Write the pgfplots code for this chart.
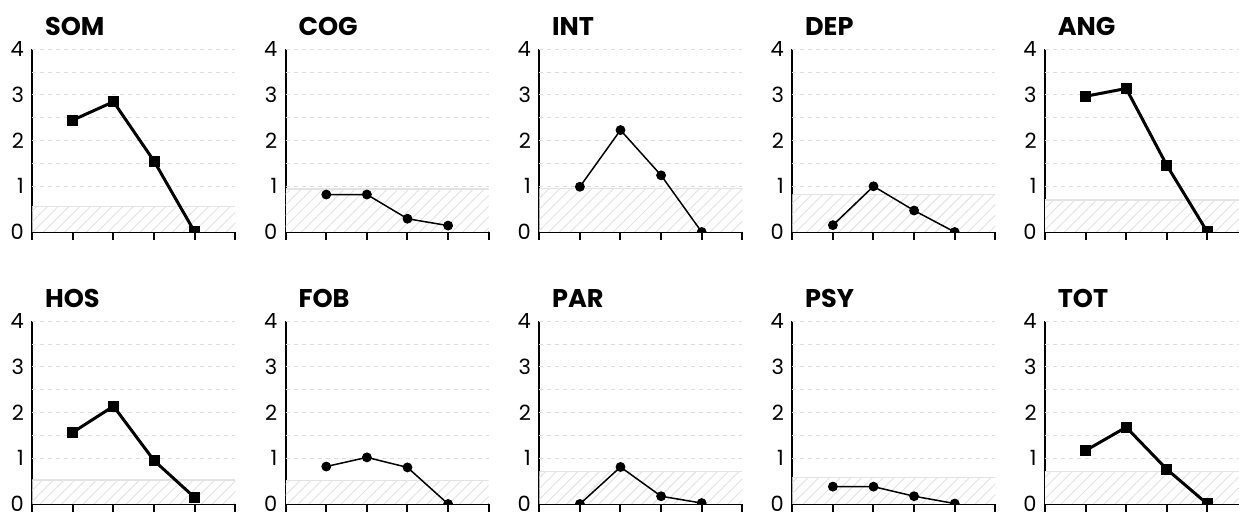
\documentclass[border=0pt]{standalone}
\usepackage{pgfplots}
\pgfplotsset{compat=1.18}
\usetikzlibrary{patterns.meta}
\usepackage{fontspec}
\setmainfont{Poppins}

\definecolor{gridc}{HTML}{DDDDDD}
\definecolor{bandc}{HTML}{E3E3E3}

\pgfplotsset{
 panel/.style={
  width=101.5pt, height=91.4pt, scale only axis,
  xmin=0,xmax=5,ymin=0,ymax=4,
  axis x line=bottom, axis y line=left,
  axis line style={-, line width=1pt, black},
  xtick={0,1,2,3,4,5}, xticklabels={},
  ytick={0,1,2,3,4},
  tick align=outside,
  major tick length=4pt,
  x tick style={line width=1pt, black},
  y tick style={draw=none},
  yticklabel style={font=\fontsize{10.5}{11}\selectfont, inner sep=0pt},
  /pgf/number format/assume math mode=true,
  extra y ticks={1,1.5,2,2.5,3,3.5,4},
  extra y tick labels={},
  extra y tick style={grid=major, major grid style={gridc, dash pattern=on 2pt off 2pt, line width=0.5pt}, y tick style={draw=none}},
  clip marker paths=true,
  title style={at={(0,1)}, anchor=base west, xshift=6.2pt, yshift=0.75pt, font=\fontsize{12.8}{13}\selectfont\bfseries, inner sep=0pt},
 },
 sq/.style={black, line width=1.5pt, mark=square*, mark size=2.5pt, mark options={line width=0.5pt}},
 ci/.style={black, line width=0.75pt, mark=*, mark size=2.2pt, mark options={line width=0.5pt}},
}

\newcommand{\band}[1]{%
 \addplot[draw=none, fill=white, postaction={pattern={Lines[angle=45,distance=3.8pt,line width=0.45pt]}, pattern color=bandc}] coordinates {(0,#1) (5,#1)} \closedcycle;
 \addplot[draw=bandc, line width=0.8pt] coordinates {(0,#1) (5,#1)};
}

\begin{document}
\begin{tikzpicture}
\fill[white] (0,0) rectangle (619.5pt,-256pt);

% ---- top row
\begin{axis}[panel, at={(16.15pt,-116pt)}, anchor=south west, title={SOM}]
\band{0.56}
\addplot[sq] coordinates {(1,2.45)(2,2.85)(3,1.55)(4,0)};
\end{axis}
\begin{axis}[panel, at={(142.85pt,-116pt)}, anchor=south west, title={COG}]
\band{0.94}
\addplot[ci] coordinates {(1,0.82)(2,0.82)(3,0.29)(4,0.14)};
\end{axis}
\begin{axis}[panel, at={(269.65pt,-116pt)}, anchor=south west, title={INT}]
\band{0.95}
\addplot[ci] coordinates {(1,0.99)(2,2.23)(3,1.24)(4,0)};
\end{axis}
\begin{axis}[panel, at={(396.15pt,-116pt)}, anchor=south west, title={DEP}]
\band{0.82}
\addplot[ci] coordinates {(1,0.15)(2,1.0)(3,0.47)(4,0)};
\end{axis}
\begin{axis}[panel, at={(522.5pt,-116pt)}, anchor=south west, title={ANG}]
\band{0.70}
\addplot[sq] coordinates {(1,2.97)(2,3.14)(3,1.46)(4,0)};
\end{axis}

% ---- bottom row
\begin{axis}[panel, at={(16.15pt,-252pt)}, anchor=south west, title={HOS}]
\band{0.52}
\addplot[sq] coordinates {(1,1.57)(2,2.14)(3,0.95)(4,0.14)};
\end{axis}
\begin{axis}[panel, at={(142.85pt,-252pt)}, anchor=south west, title={FOB}]
\band{0.51}
\addplot[ci] coordinates {(1,0.82)(2,1.02)(3,0.80)(4,0)};
\end{axis}
\begin{axis}[panel, at={(269.65pt,-252pt)}, anchor=south west, title={PAR}]
\band{0.71}
\addplot[ci] coordinates {(1,0)(2,0.81)(3,0.17)(4,0.02)};
\end{axis}
\begin{axis}[panel, at={(396.15pt,-252pt)}, anchor=south west, title={PSY}]
\band{0.58}
\addplot[ci] coordinates {(1,0.38)(2,0.38)(3,0.17)(4,0.01)};
\end{axis}
\begin{axis}[panel, at={(522.5pt,-252pt)}, anchor=south west, title={TOT}]
\band{0.71}
\addplot[sq] coordinates {(1,1.17)(2,1.68)(3,0.76)(4,0)};
\end{axis}

\pgfresetboundingbox
\useasboundingbox (0,0) rectangle (619.5pt,-256pt);
\end{tikzpicture}
\end{document}
